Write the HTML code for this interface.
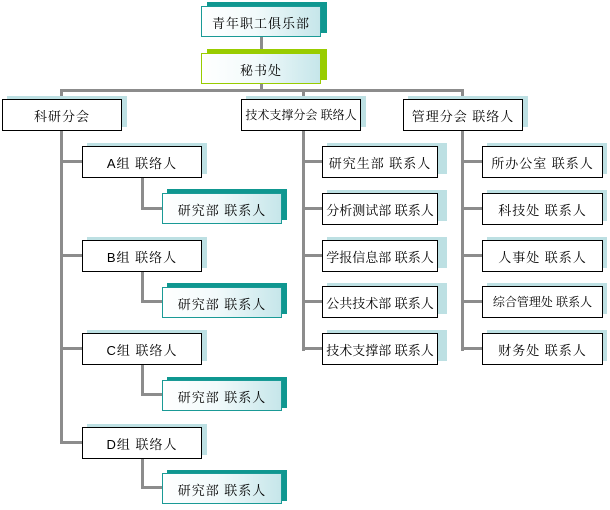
<!DOCTYPE html>
<html><head><meta charset="utf-8"><style>
body{margin:0;width:610px;height:510px;background:#fff;position:relative;overflow:hidden;font-family:"Liberation Sans","SimSun","Noto Serif CJK SC","Noto Sans CJK SC",sans-serif;}
div{position:absolute;box-sizing:border-box;}
.ln{background:#8c8c8c;}
.sh{background:#bde0e3;}
.sht{background:#0f9790;}
.shg{background:#99cc00;}
.b{background:#fff;border:1px solid #000;font-size:13px;color:#000;text-align:center;padding-top:6px;white-space:nowrap;letter-spacing:1px;}
.g{background:linear-gradient(90deg,#fff 0%,#f2fafb 45%,#c6e6ea 100%);border:1px solid #1a9a96;}
.gl{border-color:#99cc00;}
</style></head><body>
<!-- connectors -->
<div class="ln" style="left:260px;top:37px;width:3px;height:16px"></div>
<div class="ln" style="left:260px;top:84px;width:3px;height:8px"></div>
<div class="ln" style="left:60px;top:89px;width:404px;height:3px"></div>
<div class="ln" style="left:60px;top:89px;width:3px;height:10px"></div>
<div class="ln" style="left:302px;top:89px;width:3px;height:10px"></div>
<div class="ln" style="left:461px;top:89px;width:3px;height:10px"></div>
<div class="ln" style="left:60px;top:131px;width:3px;height:313px"></div>
<div class="ln" style="left:60px;top:160px;width:22px;height:3px"></div>
<div class="ln" style="left:60px;top:254px;width:22px;height:3px"></div>
<div class="ln" style="left:60px;top:347px;width:22px;height:3px"></div>
<div class="ln" style="left:60px;top:441px;width:22px;height:3px"></div>
<div class="ln" style="left:141px;top:177px;width:3px;height:33px"></div>
<div class="ln" style="left:141px;top:207px;width:21px;height:3px"></div>
<div class="ln" style="left:141px;top:271px;width:3px;height:32px"></div>
<div class="ln" style="left:141px;top:300px;width:21px;height:3px"></div>
<div class="ln" style="left:141px;top:365px;width:3px;height:31px"></div>
<div class="ln" style="left:141px;top:393px;width:21px;height:3px"></div>
<div class="ln" style="left:141px;top:458px;width:3px;height:31px"></div>
<div class="ln" style="left:141px;top:486px;width:21px;height:3px"></div>
<div class="ln" style="left:302px;top:131px;width:3px;height:220px"></div>
<div class="ln" style="left:461px;top:131px;width:3px;height:220px"></div>
<div class="ln" style="left:302px;top:160px;width:20px;height:3px"></div>
<div class="ln" style="left:302px;top:207px;width:20px;height:3px"></div>
<div class="ln" style="left:302px;top:254px;width:20px;height:3px"></div>
<div class="ln" style="left:302px;top:300px;width:20px;height:3px"></div>
<div class="ln" style="left:302px;top:347px;width:20px;height:3px"></div>
<div class="ln" style="left:461px;top:160px;width:21px;height:3px"></div>
<div class="ln" style="left:461px;top:207px;width:21px;height:3px"></div>
<div class="ln" style="left:461px;top:254px;width:21px;height:3px"></div>
<div class="ln" style="left:461px;top:300px;width:21px;height:3px"></div>
<div class="ln" style="left:461px;top:347px;width:21px;height:3px"></div>

<!-- top -->
<div class="sht" style="left:207px;top:2px;width:120px;height:31px"></div>
<div class="b g" style="left:201px;top:6px;width:120px;height:31px">青年职工俱乐部</div>
<div class="shg" style="left:207px;top:49px;width:120px;height:31px"></div>
<div class="b g gl" style="left:201px;top:53px;width:120px;height:31px">秘书处</div>

<!-- level 2 -->
<div class="sh" style="left:7px;top:96px;width:120px;height:31px"></div>
<div class="b" style="left:2px;top:99px;width:120px;height:32px">科研分会</div>
<div class="sh" style="left:246px;top:96px;width:120px;height:31px"></div>
<div class="b" style="left:241px;top:99px;width:120px;height:32px;font-size:12px;letter-spacing:0">技术支撑分会 联络人</div>
<div class="sh" style="left:408px;top:96px;width:120px;height:31px"></div>
<div class="b" style="left:403px;top:99px;width:120px;height:32px">管理分会 联络人</div>

<!-- groups -->
<div class="sh" style="left:87px;top:143px;width:120px;height:31px"></div>
<div class="b" style="left:82px;top:146px;width:120px;height:32px">A组 联络人</div>
<div class="sht" style="left:167px;top:189px;width:120px;height:31px"></div>
<div class="b g" style="left:162px;top:193px;width:120px;height:31px">研究部 联系人</div>

<div class="sh" style="left:87px;top:237px;width:120px;height:31px"></div>
<div class="b" style="left:82px;top:240px;width:120px;height:32px">B组 联络人</div>
<div class="sht" style="left:167px;top:283px;width:120px;height:31px"></div>
<div class="b g" style="left:162px;top:287px;width:120px;height:31px">研究部 联系人</div>

<div class="sh" style="left:87px;top:330px;width:120px;height:31px"></div>
<div class="b" style="left:82px;top:333px;width:120px;height:32px">C组 联络人</div>
<div class="sht" style="left:167px;top:377px;width:120px;height:31px"></div>
<div class="b g" style="left:162px;top:380px;width:120px;height:31px">研究部 联系人</div>

<div class="sh" style="left:87px;top:424px;width:120px;height:31px"></div>
<div class="b" style="left:82px;top:427px;width:120px;height:32px">D组 联络人</div>
<div class="sht" style="left:167px;top:470px;width:120px;height:31px"></div>
<div class="b g" style="left:162px;top:473px;width:120px;height:31px">研究部 联系人</div>

<!-- tech column -->
<div class="sh" style="left:327px;top:143px;width:120px;height:31px"></div>
<div class="b" style="left:322px;top:146px;width:116px;height:32px">研究生部 联系人</div>
<div class="sh" style="left:327px;top:190px;width:120px;height:31px"></div>
<div class="b" style="left:322px;top:193px;width:116px;height:32px;letter-spacing:0">分析测试部 联系人</div>
<div class="sh" style="left:327px;top:237px;width:120px;height:31px"></div>
<div class="b" style="left:322px;top:240px;width:116px;height:32px;letter-spacing:0">学报信息部 联系人</div>
<div class="sh" style="left:327px;top:283px;width:120px;height:31px"></div>
<div class="b" style="left:322px;top:286px;width:116px;height:32px;letter-spacing:0">公共技术部 联系人</div>
<div class="sh" style="left:327px;top:330px;width:120px;height:31px"></div>
<div class="b" style="left:322px;top:333px;width:116px;height:32px;letter-spacing:0">技术支撑部 联系人</div>

<!-- mgmt column -->
<div class="sh" style="left:487px;top:143px;width:120px;height:31px"></div>
<div class="b" style="left:482px;top:146px;width:121px;height:32px">所办公室 联系人</div>
<div class="sh" style="left:487px;top:190px;width:120px;height:31px"></div>
<div class="b" style="left:482px;top:193px;width:121px;height:32px">科技处 联系人</div>
<div class="sh" style="left:487px;top:237px;width:120px;height:31px"></div>
<div class="b" style="left:482px;top:240px;width:121px;height:32px">人事处 联系人</div>
<div class="sh" style="left:487px;top:283px;width:120px;height:31px"></div>
<div class="b" style="left:482px;top:286px;width:121px;height:32px;font-size:12px;letter-spacing:0">综合管理处 联系人</div>
<div class="sh" style="left:487px;top:330px;width:120px;height:31px"></div>
<div class="b" style="left:482px;top:333px;width:121px;height:32px">财务处 联系人</div>
</body></html>
